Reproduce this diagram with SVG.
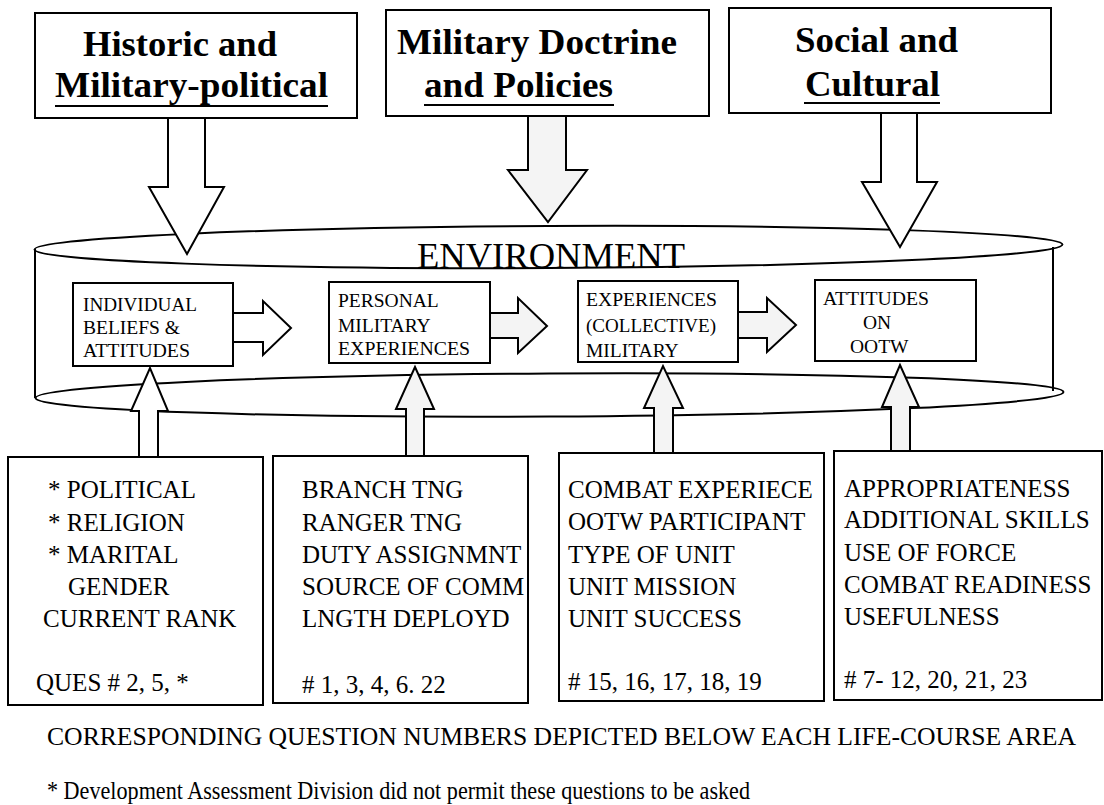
<svg xmlns="http://www.w3.org/2000/svg" width="1104" height="805" viewBox="0 0 1104 805" xml:space="preserve" font-family="'Liberation Serif', 'Times New Roman', serif">
<style>
.box{fill:#fff;stroke:#000;stroke-width:2}
.arrow{fill:#fff;stroke:#000;stroke-width:2;stroke-linejoin:miter}
.dot{fill:#f4f4f4}
.cyl{fill:none;stroke:#000;stroke-width:2}
.ul{stroke:#000;stroke-width:2}
text{fill:#000;font-family:"Liberation Serif","Times New Roman",serif}
.hd{font-weight:bold;font-size:36px}
.env{font-size:35px}
.sm{font-size:19.5px}
.md{font-size:25px}
.ft{font-size:25.5px}
</style>
<rect width="1104" height="805" fill="#fff"/>
<g id="environment">
<ellipse class="cyl" cx="548.5" cy="247" rx="514" ry="21" transform="rotate(-0.28 548.5 247)"/>
<line class="cyl" x1="35" y1="249" x2="35" y2="398"/>
<line class="cyl" x1="1053" y1="247" x2="1053" y2="391"/>
<ellipse class="cyl" cx="549.5" cy="395" rx="514" ry="21.5" transform="rotate(-0.33 549.5 395)"/>
<text class="env" x="417" y="268" textLength="268" lengthAdjust="spacingAndGlyphs">ENVIRONMENT</text>
</g>
<g id="top-historic">
<rect class="box" x="35" y="13" width="322" height="105"/>
<text class="hd" x="83" y="56" textLength="194" lengthAdjust="spacingAndGlyphs">Historic and</text>
<text class="hd" x="55" y="97" textLength="273" lengthAdjust="spacingAndGlyphs">Military-political</text>
<line class="ul" x1="55" y1="106" x2="328" y2="106"/>
</g>
<g id="top-doctrine">
<rect class="box" x="386" y="10" width="323" height="106"/>
<text class="hd" x="397" y="54" textLength="280" lengthAdjust="spacingAndGlyphs">Military Doctrine</text>
<text class="hd" x="424" y="97" textLength="189" lengthAdjust="spacingAndGlyphs">and Policies</text>
<line class="ul" x1="424" y1="105" x2="614" y2="105"/>
</g>
<g id="top-social">
<rect class="box" x="729" y="8" width="322" height="105"/>
<text class="hd" x="795" y="52" textLength="163" lengthAdjust="spacingAndGlyphs">Social and</text>
<text class="hd" x="805" y="96" textLength="135" lengthAdjust="spacingAndGlyphs">Cultural</text>
<line class="ul" x1="804" y1="103" x2="940" y2="103"/>
</g>
<g id="node-individual">
<rect class="box" x="73" y="283" width="160" height="83"/>
<text class="sm" x="83" y="311" textLength="114" lengthAdjust="spacingAndGlyphs">INDIVIDUAL</text>
<text class="sm" x="83" y="334">BELIEFS &amp;</text>
<text class="sm" x="83" y="357" textLength="107" lengthAdjust="spacingAndGlyphs">ATTITUDES</text>
</g>
<g id="node-personal">
<rect class="box" x="329" y="282" width="161" height="81"/>
<text class="sm" x="338" y="307">PERSONAL</text>
<text class="sm" x="338" y="332">MILITARY</text>
<text class="sm" x="338" y="355" textLength="132" lengthAdjust="spacingAndGlyphs">EXPERIENCES</text>
</g>
<g id="node-collective">
<rect class="box" x="578" y="281" width="160" height="81"/>
<text class="sm" x="586" y="306" textLength="131" lengthAdjust="spacingAndGlyphs">EXPERIENCES</text>
<text class="sm" x="586" y="332" textLength="130" lengthAdjust="spacingAndGlyphs">(COLLECTIVE)</text>
<text class="sm" x="586" y="357">MILITARY</text>
</g>
<g id="node-attitudes">
<rect class="box" x="815" y="280" width="161" height="81"/>
<text class="sm" x="823" y="305" textLength="106" lengthAdjust="spacingAndGlyphs">ATTITUDES</text>
<text class="sm" x="863" y="329">ON</text>
<text class="sm" x="850" y="353">OOTW</text>
</g>
<g id="bottom-individual">
<rect class="box" x="8" y="457" width="255" height="248"/>
<text class="md" x="48" y="498">* POLITICAL</text>
<text class="md" x="48" y="531">* RELIGION</text>
<text class="md" x="48" y="563">* MARITAL</text>
<text class="md" x="68" y="595">GENDER</text>
<text class="md" x="43" y="627">CURRENT RANK</text>
<text class="md" x="36" y="691">QUES #  2, 5, *</text>
</g>
<g id="bottom-personal">
<rect class="box" x="273" y="456" width="255" height="247"/>
<text class="md" x="302" y="498">BRANCH TNG</text>
<text class="md" x="302" y="531">RANGER TNG</text>
<text class="md" x="302" y="563">DUTY ASSIGNMNT</text>
<text class="md" x="302" y="595">SOURCE OF COMM</text>
<text class="md" x="302" y="627">LNGTH  DEPLOYD</text>
<text class="md" x="302" y="693">#  1, 3, 4, 6. 22</text>
</g>
<g id="bottom-collective">
<rect class="box" x="559" y="453" width="265" height="248"/>
<text class="md" x="568" y="498">COMBAT EXPERIECE</text>
<text class="md" x="568" y="530">OOTW PARTICIPANT</text>
<text class="md" x="568" y="563">TYPE OF UNIT</text>
<text class="md" x="568" y="595">UNIT MISSION</text>
<text class="md" x="568" y="627">UNIT SUCCESS</text>
<text class="md" x="568" y="690">#  15, 16, 17, 18, 19</text>
</g>
<g id="bottom-attitudes">
<rect class="box" x="834" y="451" width="268" height="249"/>
<text class="md" x="844" y="497">APPROPRIATENESS</text>
<text class="md" x="844" y="528">ADDITIONAL SKILLS</text>
<text class="md" x="844" y="561">USE OF FORCE</text>
<text class="md" x="844" y="593">COMBAT READINESS</text>
<text class="md" x="844" y="625">USEFULNESS</text>
<text class="md" x="844" y="688">#  7- 12, 20, 21, 23</text>
</g>
<g id="connectors">
<polygon class="arrow" points="168,118 205,118 205,187 224,187 187,254 149,187 168,187"/>
<polygon class="arrow dot" points="528,116 566,116 566,170 587,170 548,222 508,170 528,170"/>
<polygon class="arrow" points="881,113 917,113 917,182 937,182 900,247 862,182 881,182"/>
<polygon class="arrow" points="233,313 263,313 263,301 291,328 263,355 263,342 233,342"/>
<polygon class="arrow dot" points="490,313 518,313 518,298 547,326 518,353 518,338 490,338"/>
<polygon class="arrow dot" points="738,312 767,312 767,298 796,325 767,352 767,338 738,338"/>
<polygon class="arrow" points="139,457 139,411 131,411 150,368 168,411 158,411 158,457"/>
<polygon class="arrow dot" points="406,456 406,409 396,409 415,367 434,409 424,409 424,456"/>
<polygon class="arrow dot" points="654,453 654,408 644,408 663,366 683,408 673,408 673,453"/>
<polygon class="arrow dot" points="891,451 891,407 882,407 900,365 919,407 910,407 910,451"/>
</g>
<g id="footer">
<text class="ft" x="47" y="745" textLength="1029" lengthAdjust="spacingAndGlyphs">CORRESPONDING QUESTION NUMBERS DEPICTED BELOW EACH LIFE-COURSE AREA</text>
<text class="md" x="47" y="799" textLength="703" lengthAdjust="spacingAndGlyphs">* Development Assessment Division did not permit these questions to be asked</text>
</g>
</svg>
